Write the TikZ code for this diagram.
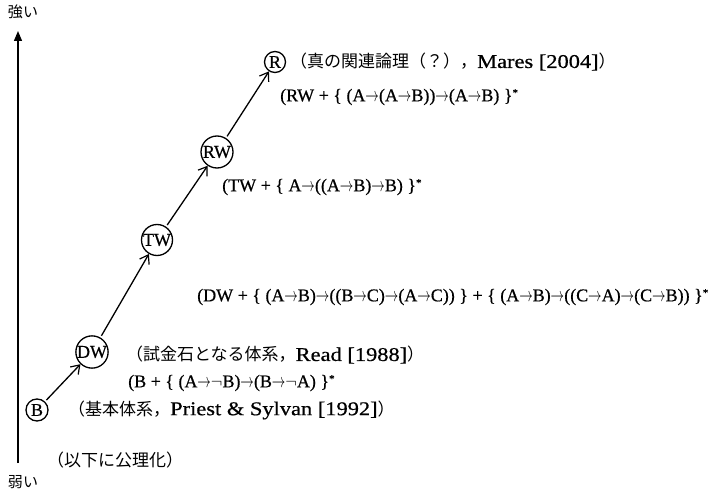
\documentclass[tikz,border=0pt]{standalone}
\usepackage{graphicx}
\usepackage{fontspec}
\setmainfont{Liberation Serif}[FakeStretch=1.0,FakeBold=0.6]
\newfontfamily\prosef{Liberation Serif}[FakeStretch=1.15,FakeBold=0.6]
\newfontfamily\jpf{Noto Sans CJK JP}
\usetikzlibrary{arrows.meta}
\newcommand\Jp[1]{{\jpf #1}}
\newcommand\Lt[1]{{\prosef\fontsize{19.5}{20}\selectfont #1}}
\newcommand\imp{\raisebox{0.3pt}{\scalebox{0.78}[1.15]{\fontsize{17}{17}\selectfont$\rightarrow$}}}
\newcommand\st{\raisebox{5pt}{\fontsize{11}{11}\selectfont *}}
\tikzset{
  sys/.style={draw, circle, line width=1.3pt, inner sep=0pt, font=\fontsize{18}{18}\selectfont},
  lbl/.style={anchor=west, inner sep=0pt, font=\fontsize{18}{20}\selectfont},
  jlbl/.style={lbl, font=\fontsize{17}{20}\selectfont},
  upar/.style={-{Straight Barb[length=8pt,width=11pt,line width=1.2pt]}, line width=1.3pt, shorten <=2pt},
}
\begin{document}
\begin{tikzpicture}[x=1pt,y=-1pt]
\useasboundingbox (0,0) rectangle (722,494);
% axis
\coordinate (axbot) at (18,463);
\coordinate (axtop) at (18,31);
\draw[line width=1.3pt, -{Triangle[length=10pt,width=8pt]}] (axbot) -- (axtop);
\node[font=\fontsize{15}{15}\selectfont\jpf] (strong) at (23,12) {強い};
\node[font=\fontsize{15}{15}\selectfont\jpf] (weak) at (23,482) {弱い};
% systems
\node[sys, minimum size=21pt] (R) at (275,62) {R};
\node[sys, minimum size=32pt] (RW) at (217,152) {RW};
\node[sys, minimum size=31pt] (TW) at (157,240) {TW};
\node[sys, minimum size=31pt] (DW) at (92,352) {DW};
\node[sys, minimum size=22pt] (B) at (37,410) {B};
% arrows
\draw[upar] (B) -- (DW);
\draw[upar] (DW) -- (TW);
\draw[upar] (TW) -- (RW);
\draw[upar] (RW) -- (R);
% labels
\node[jlbl] (tR) at (290,62) {\Jp{（真の関連論理（？），}\Lt{Mares [2004]}\Jp{）}};
\node[lbl] (tRW) at (280,97) {(RW + \{ (A\imp(A\imp B))\imp(A\imp B) \}\st};
\node[lbl] (tTW) at (222,187) {(TW + \{ A\imp((A\imp B)\imp B) \}\st};
\node[lbl] (tDW) at (197,297) {(DW + \{ (A\imp B)\imp((B\imp C)\imp(A\imp C)) \} + \{ (A\imp B)\imp((C\imp A)\imp(C\imp B)) \}\st};
\node[jlbl] (tDWn) at (126,355) {\Jp{（試金石となる体系，}\Lt{Read [1988]}\Jp{）}};
\node[lbl] (tB) at (128,383) {(B + \{ (A\imp$\neg$B)\imp(B\imp$\neg$A) \}\st};
\node[jlbl] (tBn) at (68,410) {\Jp{（基本体系，}\Lt{Priest \& Sylvan [1992]}\Jp{）}};
\node[jlbl] (tax) at (47,460) {\Jp{（以下に公理化）}};
\end{tikzpicture}
\end{document}
